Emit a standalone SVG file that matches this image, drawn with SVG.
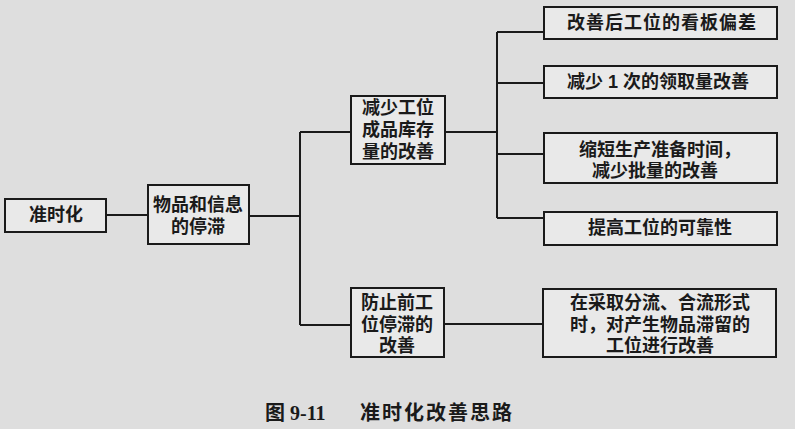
<svg xmlns="http://www.w3.org/2000/svg" width="795" height="429" viewBox="0 0 795 429">
<style>
.box{fill:#e9e9e9;stroke:#1a1a1a;stroke-width:2}
.t{font-family:"Liberation Sans","Noto Sans CJK SC","Noto Sans CJK JP",sans-serif;font-size:18px;font-weight:700;fill:#1a1a1a;text-anchor:middle;dominant-baseline:central}
.c{fill:none;stroke:#1a1a1a;stroke-width:2}
.cap{font-family:"Liberation Serif","Noto Sans CJK SC",serif;font-size:20px;font-weight:700;fill:#1a1a1a}
</style>
<rect x="0" y="0" width="795" height="429" fill="#dedede"/>
<g id="connectors">
<path class="c" d="M106 215H148"/>
<path class="c" d="M249 216H300"/>
<path class="c" d="M300 132V325"/>
<path class="c" d="M300 132H351"/>
<path class="c" d="M300 325H351"/>
<path class="c" d="M445 132H497"/>
<path class="c" d="M497 32V218"/>
<path class="c" d="M497 32H544"/>
<path class="c" d="M497 83H544"/>
<path class="c" d="M497 154H544"/>
<path class="c" d="M497 218H544"/>
<path class="c" d="M444 324H543"/>
</g>
<g id="n1"><rect class="box" x="5" y="199" width="101" height="33"/><text class="t" x="56" y="215">准时化</text></g>
<g id="n2"><rect class="box" x="148" y="185" width="101" height="59"/><text class="t" x="198" y="205">物品和信息</text><text class="t" x="198" y="227">的停滞</text></g>
<g id="n3"><rect class="box" x="351" y="96" width="94" height="68"/><text class="t" x="398" y="108">减少工位</text><text class="t" x="398" y="130">成品库存</text><text class="t" x="398" y="152">量的改善</text></g>
<g id="n4"><rect class="box" x="544" y="7" width="233" height="32"/><text class="t" x="662" y="23" letter-spacing="1">改善后工位的看板偏差</text></g>
<g id="n5"><rect class="box" x="544" y="66" width="233" height="32"/><text class="t" x="658" y="82">减少 1 次的领取量改善</text></g>
<g id="n6"><rect class="box" x="544" y="133" width="233" height="50"/><text class="t" x="660" y="150">缩短生产准备时间，</text><text class="t" x="655" y="171">减少批量的改善</text></g>
<g id="n7"><rect class="box" x="544" y="212" width="233" height="33"/><text class="t" x="660" y="228">提高工位的可靠性</text></g>
<g id="n8"><rect class="box" x="351" y="288" width="93" height="69"/><text class="t" x="397" y="303">防止前工</text><text class="t" x="397" y="325">位停滞的</text><text class="t" x="397" y="346">改善</text></g>
<g id="n9"><rect class="box" x="543" y="289" width="233" height="68"/><text class="t" x="660" y="303">在采取分流、合流形式</text><text class="t" x="660" y="325">时，对产生物品滞留的</text><text class="t" x="660" y="346">工位进行改善</text></g>
<text class="cap" x="265" y="420">图 9-11</text>
<text class="cap" x="360" y="420" letter-spacing="2">准时化改善思路</text>
</svg>
